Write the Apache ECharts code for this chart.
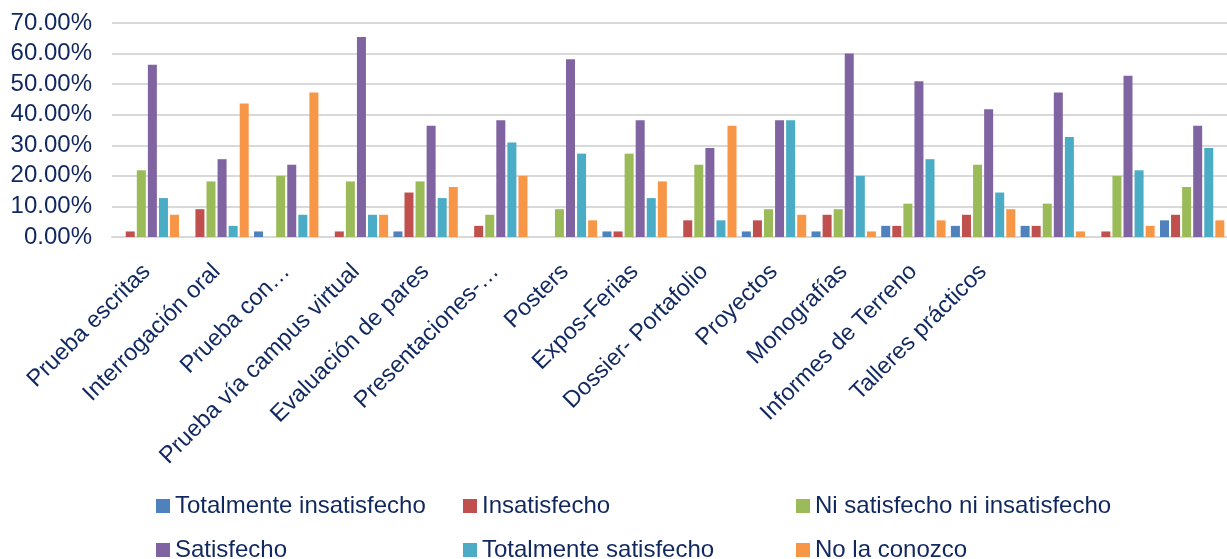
<!DOCTYPE html>
<html>
<head>
<meta charset="utf-8">
<script src="https://cdn.jsdelivr.net/npm/echarts@6/dist/echarts.min.js"></script>
<style>
  html, body { margin: 0; padding: 0; background: #fff; }
  #chart { width: 1227px; height: 559px; }
</style>
</head>
<body>
<div id="chart"></div>
<script>
// categorias (las tres ultimas sin etiqueta en el original)
var categorias = ['Prueba escritas', 'Interrogación oral', 'Prueba con…', 'Prueba vía campus virtual',
    'Evaluación de pares', 'Presentaciones-…', 'Posters', 'Expos-Ferias', 'Dossier- Portafolio',
    'Proyectos', 'Monografías', 'Informes de Terreno', 'Talleres prácticos', ' ', '  ', '   '];

// valores en %
var totalmenteInsatisfecho = [0, 0, 1.82, 0, 1.82, 0, 0, 1.82, 0, 1.82, 1.82, 3.64, 3.64, 3.64, 0, 5.45];
var insatisfecho = [1.82, 9.09, 0, 1.82, 14.55, 3.64, 0, 1.82, 5.45, 5.45, 7.27, 3.64, 7.27, 3.64, 1.82, 7.27];
var niSatisfecho = [21.82, 18.18, 20.0, 18.18, 18.18, 7.27, 9.09, 27.27, 23.64, 9.09, 9.09, 10.91, 23.64, 10.91, 20.0, 16.36];
var satisfecho = [56.36, 25.45, 23.64, 65.45, 36.36, 38.18, 58.18, 38.18, 29.09, 38.18, 60.0, 50.91, 41.82, 47.27, 52.73, 36.36];
var totalmenteSatisfecho = [12.73, 3.64, 7.27, 7.27, 12.73, 30.91, 27.27, 12.73, 5.45, 38.18, 20.0, 25.45, 14.55, 32.73, 21.82, 29.09];
var noLaConozco = [7.27, 43.64, 47.27, 7.27, 16.36, 20.0, 5.45, 18.18, 36.36, 7.27, 1.82, 5.45, 9.09, 1.82, 3.64, 5.45];

var nombres = ['Totalmente insatisfecho', 'Insatisfecho', 'Ni satisfecho ni insatisfecho',
    'Satisfecho', 'Totalmente satisfecho', 'No la conozco'];
var valores = [totalmenteInsatisfecho, insatisfecho, niSatisfecho, satisfecho, totalmenteSatisfecho, noLaConozco];
var colores = ['#4F81BD', '#C0504D', '#9BBB59', '#8064A2', '#4BACC6', '#F79646'];

var fuente = '"Liberation Sans", Arial, sans-serif';
var azul = '#10285F';

var chart = echarts.init(document.getElementById('chart'));

var series = nombres.map(function (n, i) {
    return {
        name: n,
        type: 'bar',
        data: valores[i],
        barWidth: 9,
        barGap: '23%',
        itemStyle: { color: colores[i] }
    };
});

// una leyenda por columna, dos filas cada una
function leyenda(izq, datos) {
    return {
        orient: 'vertical',
        left: izq,
        top: 489,
        height: 80,
        data: datos,
        icon: 'rect',
        itemWidth: 14,
        itemHeight: 14,
        itemGap: 20,
        selectedMode: false,
        textStyle: { fontFamily: fuente, fontSize: 24, color: azul, lineHeight: 22 }
    };
}

var option = {
    animation: false,
    color: colores,
    grid: { left: 112, right: -10, top: 23, bottom: 322, containLabel: false },
    legend: [
        leyenda(151, ['Totalmente insatisfecho', 'Satisfecho']),
        leyenda(458, ['Insatisfecho', 'Totalmente satisfecho']),
        leyenda(791, ['Ni satisfecho ni insatisfecho', 'No la conozco'])
    ],
    xAxis: {
        type: 'category',
        data: categorias,
        axisTick: { show: false },
        axisLine: { lineStyle: { color: '#D9D9D9', width: 2 } },
        axisLabel: {
            interval: 0,
            rotate: 45,
            margin: 31,
            fontFamily: fuente,
            fontSize: 23.5,
            color: azul
        }
    },
    yAxis: {
        type: 'value',
        min: 0,
        max: 70,
        interval: 10,
        axisLine: { show: false },
        axisTick: { show: false },
        splitLine: { lineStyle: { color: '#D9D9D9', width: 2 } },
        axisLabel: {
            margin: 20,
            fontFamily: fuente,
            fontSize: 24,
            color: azul,
            formatter: function (v) { return v.toFixed(2) + '%'; }
        }
    },
    series: series
};

chart.setOption(option);
</script>
</body>
</html>
